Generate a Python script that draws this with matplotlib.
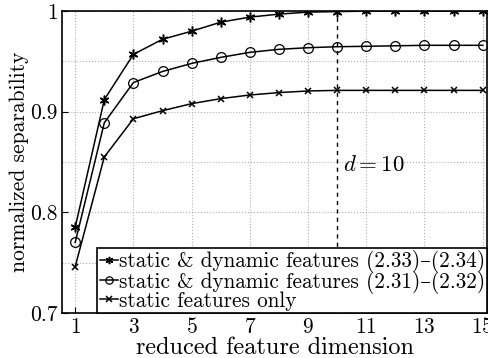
import matplotlib
matplotlib.use("Agg")
import matplotlib.pyplot as plt

plt.rcParams['font.family'] = ['cmr10', 'DejaVu Serif']
plt.rcParams['mathtext.fontset'] = 'cm'
plt.rcParams['axes.formatter.use_mathtext'] = True

# data
dims = list(range(1, 16))
static_dyn_33 = [0.785, 0.912, 0.957, 0.972, 0.980, 0.989, 0.994, 0.997, 0.999, 0.9995,
                 1.0, 1.0, 1.0, 1.0, 1.0]
static_dyn_31 = [0.770, 0.889, 0.929, 0.940, 0.948, 0.954, 0.959, 0.962, 0.9636, 0.9646,
                 0.965, 0.9655, 0.966, 0.966, 0.966]
static_only = [0.746, 0.855, 0.893, 0.901, 0.908, 0.913, 0.9166, 0.919, 0.9206, 0.9212,
               0.9212, 0.9212, 0.9212, 0.9212, 0.9212]
labels = ['static & dynamic features (2.33)\u2013(2.34)',
          'static & dynamic features (2.31)\u2013(2.32)',
          'static features only']
d_sel = 10

fig = plt.figure(figsize=(4.89, 3.58), dpi=100)
ax = fig.add_axes([0.127, 0.126, 0.869, 0.843])

ax.plot(dims, static_dyn_33, color='black', lw=1.1, marker=(6, 2, 0), ms=7, mew=1.1, label=labels[0])
ax.plot(dims, static_dyn_31, color='black', lw=1.1, marker='o', ms=7, mfc='none', mew=0.9, label=labels[1])
ax.plot(dims, static_only, color='black', lw=1.1, marker='x', ms=5, mew=1.1, label=labels[2])

ax.plot([d_sel, d_sel], [0.7, 1.0], color='black', lw=1, ls=(0, (3, 3)))
ax.text(d_sel + 0.2, 0.847, r'$d = 10$', fontsize=16.5, va='center')

ax.set_xlim(0.55, 15.15)
ax.set_ylim(0.7, 1.0)
ax.set_xticks(range(1, 16, 2))
ax.set_xticks([d_sel], minor=True)
ax.set_yticks([0.7, 0.8, 0.9, 1.0])
ax.set_yticklabels(['0.7', '0.8', '0.9', '1'])
ax.set_yticks([0.75, 0.85, 0.95], minor=True)
ax.tick_params(direction='in', labelsize=15.5, length=4, width=0.8, pad=3)
ax.tick_params(which='minor', direction='in', length=0, left=False)
ax.tick_params(axis='x', which='minor', length=4, width=0.8)
ax.grid(True, which='major', ls=':', color='#b0b0b0', lw=0.8)
ax.grid(True, axis='y', which='minor', ls=':', color='#b0b0b0', lw=0.8)
for s in ax.spines.values():
    s.set_linewidth(1.2)

ax.set_xlabel('reduced feature dimension', fontsize=17.5, labelpad=0)
ax.set_ylabel('normalized separability', fontsize=15.5, labelpad=1)

leg = ax.legend(loc='lower right', fontsize=15.3, handlelength=0.85, handletextpad=0.05,
                borderpad=0.1, labelspacing=-0.12, borderaxespad=0.0, fancybox=False,
                framealpha=1, edgecolor='black', markerscale=0.75)
leg.get_frame().set_linewidth(1.2)

fig.savefig('out.png', dpi=100)
